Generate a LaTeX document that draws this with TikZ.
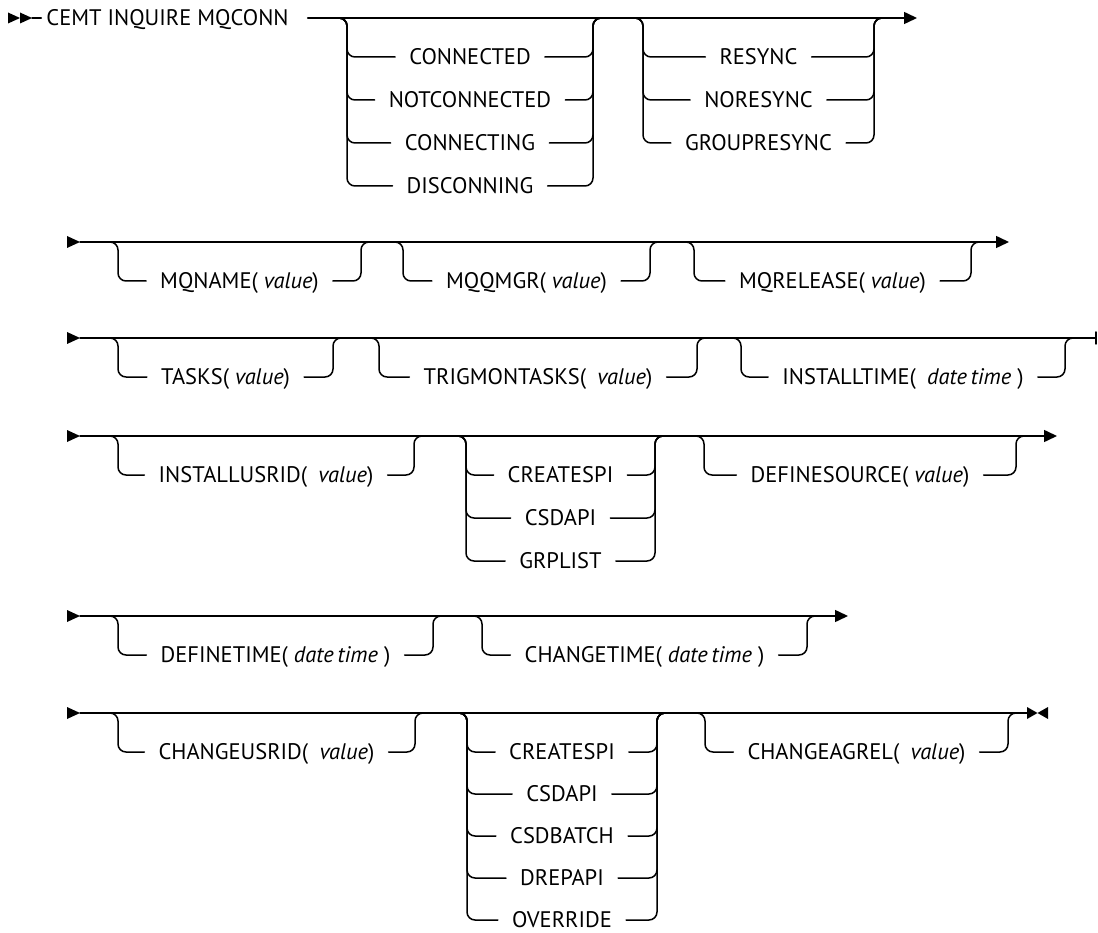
\documentclass[tikz,border=0pt]{standalone}
\usepackage{fontspec}
\setmainfont{PT Sans}
\usetikzlibrary{arrows.meta}
\newcommand\val[1]{\textit{#1}}
\begin{document}
\begin{tikzpicture}[line join=round,line cap=round,x=1pt,y=-1pt]
	\tikzset{rail/.style={line width=1.5pt,rounded corners=8pt},
		kw/.style={font=\fontsize{22.5}{26}\selectfont,inner xsep=14pt,inner ysep=0pt,text height=15.5pt,text depth=0pt},
		tip/.style={-{Triangle[length=13pt,width=12pt]}}}
	\useasboundingbox (0,0) rectangle (1098,933);
	% one choice box: main line y, left rail, right rail, rows
	\def\optgroup#1#2#3#4{%
		\foreach \yy/\nn/\lbl in {#4}{
			\node[kw] (\nn) at ({(#2+#3)/2},\yy) {\lbl};
			\draw[rail] (#2-12,#1) -- (#2,#1) -- (#2,\yy) -- (\nn.west);
			\draw[rail] (\nn.east) -- (#3,\yy) -- (#3,#1) -- (#3+12,#1);
		}}
	\def\startmark#1{\fill (67,#1-6) -- (80,#1) -- (67,#1+6) -- cycle;}
	% row 1
	\node[kw,inner xsep=0pt] (cmd) at (167.5,18) {CEMT INQUIRE MQCONN};
	\fill (8,12.5) -- (20,18) -- (8,23.5) -- cycle;
	\fill (20,12.5) -- (32,18) -- (20,23.5) -- cycle;
	\coordinate (s1) at (32,18); \coordinate (e1) at (917,18);
	\draw[rail] (s1) -- ([xshift=-5pt]cmd.west);
	\draw[rail,tip] ([xshift=19pt]cmd.east) -- (e1);
	\optgroup{18}{347}{593}{57/conn/CONNECTED,100/notconn/NOTCONNECTED,143/conning/CONNECTING,186/disconn/DISCONNING}
	\optgroup{18}{643}{874}{57/resync/RESYNC,100/noresync/NORESYNC,143/grpresync/GROUPRESYNC}
	% row 2
	\startmark{242}
	\coordinate (s2) at (80,242); \coordinate (e2) at (1009,242);
	\draw[rail,tip] (s2) -- (e2);
	\optgroup{242}{118}{361}{281/mqname/{MQNAME( \val{value})}}
	\optgroup{242}{403}{650}{281/mqqmgr/{MQQMGR( \val{value})}}
	\optgroup{242}{694}{971}{281/mqrel/{MQRELEASE( \val{value})}}
	% row 3
	\startmark{338}
	\coordinate (s3) at (80,338); \coordinate (e3) at (1096,338);
	\draw[rail] (s3) -- (e3);
	\draw[line width=1.5pt] (1096,332) -- (1096,344);
	\optgroup{338}{118}{333}{377/tasks/{TASKS( \val{value})}}
	\optgroup{338}{379}{697}{377/trigmon/{TRIGMONTASKS(\enspace\val{value})}}
	\optgroup{338}{741}{1065}{377/insttime/{INSTALLTIME(\enspace\val{date\,time} )}}
	% row 4
	\startmark{436}
	\coordinate (s4) at (80,436); \coordinate (e4) at (1057,436);
	\draw[rail,tip] (s4) -- (e4);
	\optgroup{436}{118}{414}{475/instusr/{INSTALLUSRID(\enspace\val{value})}}
	\optgroup{436}{466}{655}{475/cspi4/CREATESPI,518/csdapi4/CSDAPI,561/grplist/GRPLIST}
	\optgroup{436}{704}{1016}{475/defsrc/{DEFINESOURCE( \val{value})}}
	% row 5
	\startmark{616}
	\coordinate (s5) at (80,616); \coordinate (e5) at (848,616);
	\draw[rail,tip] (s5) -- (e5);
	\optgroup{616}{118}{433}{655/deftime/{DEFINETIME( \val{date\,time} )}}
	\optgroup{616}{482}{807}{655/chgtime/{CHANGETIME( \val{date\,time} )}}
	% row 6
	\startmark{713}
	\coordinate (s6) at (80,713); \coordinate (e6) at (1027,713);
	\draw[rail] (s6) -- (e6);
	\fill (1027,707) -- (1037.5,713) -- (1027,719) -- cycle;
	\fill (1048,707) -- (1037.5,713) -- (1048,719) -- cycle;
	\optgroup{713}{118}{415}{752/chgusr/{CHANGEUSRID(\enspace\val{value})}}
	\optgroup{713}{467}{657}{752/cspi6/CREATESPI,794/csdapi6/CSDAPI,836/csdbatch/CSDBATCH,878/drepapi/DREPAPI,920/override/OVERRIDE}
	\optgroup{713}{705}{1008}{752/chgagrel/{CHANGEAGREL(\enspace\val{value})}}
\end{tikzpicture}
\end{document}
